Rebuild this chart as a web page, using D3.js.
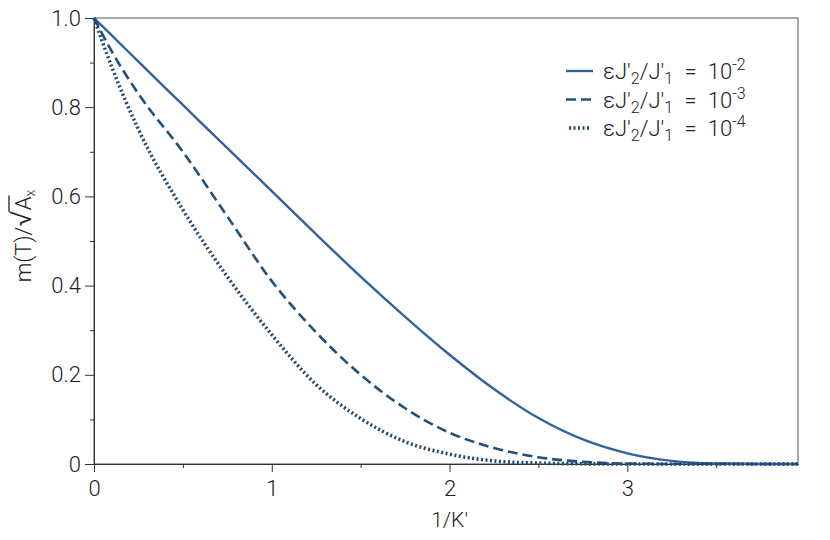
<!DOCTYPE html>
<html>
<head>
<meta charset="utf-8">
<script src="https://cdn.jsdelivr.net/npm/d3@7"></script>
<style>
  body { margin: 0; background: #fff; }
  svg text { font-family: Roboto, "Liberation Sans", sans-serif; font-weight: 300; fill: #222; }
</style>
</head>
<body>
<svg id="chart" width="830" height="540"></svg>
<script>
// values
const xs = [0, 0.1, 0.25, 0.5, 0.75, 1.0, 1.25, 1.5, 1.75, 2.0, 2.25, 2.5, 2.75, 3.0, 3.25, 3.5, 3.75, 3.96];
const series1 = [1.0, 0.961, 0.902, 0.805, 0.708, 0.612, 0.515, 0.42, 0.33, 0.245, 0.168, 0.103, 0.055, 0.024, 0.007, 0.001, 0, 0];
const series2 = [1.0, 0.925, 0.83, 0.70, 0.555, 0.41, 0.295, 0.20, 0.125, 0.07, 0.036, 0.015, 0.005, 0.001, 0, 0, 0, 0];
const series3 = [1.0, 0.89, 0.75, 0.57, 0.42, 0.29, 0.178, 0.102, 0.05, 0.022, 0.007, 0.002, 0.0005, 0, 0, 0, 0, 0];
const exponents = ["-2", "-3", "-4"];
const xMajor = [0, 1, 2, 3];
const xMinor = [0.5, 1.5, 2.5, 3.5];
const yMajor = [0, 0.2, 0.4, 0.6, 0.8, 1.0];
const yMinor = [0.1, 0.3, 0.5, 0.7, 0.9];

const svg = d3.select("#chart");
const margin = {top: 18, right: 32, bottom: 76, left: 94};
const width = 830 - margin.left - margin.right,
      height = 540 - margin.top - margin.bottom;
const g = svg.append("g").attr("transform", "translate(" + margin.left + "," + margin.top + ")");

const x = d3.scaleLinear().domain([0, 3.96]).range([0, width]);
const y = d3.scaleLinear().domain([0, 1]).range([height, 0]);

const styles = [
  {color: "#31629a", dash: null, w: 2.4},
  {color: "#23507a", dash: "10,5", w: 2.6},
  {color: "#1f4a72", dash: "2,2.5", w: 3.6}
];

// frame
g.append("rect")
    .attr("width", width).attr("height", height)
    .attr("fill", "none").attr("stroke", "#555").attr("stroke-width", 1);

function styleAxis(sel) {
  sel.select(".domain").attr("stroke", "#333");
  sel.selectAll(".tick line").attr("stroke", "#333");
  sel.selectAll("text").style("font-size", "22px");
}

g.append("g")
    .attr("transform", "translate(0," + height + ")")
    .call(d3.axisBottom(x).tickValues(xMajor).tickSize(8).tickSizeOuter(0).tickPadding(8).tickFormat(d3.format("d")))
    .call(styleAxis);
g.append("g")
    .attr("transform", "translate(0," + height + ")")
    .call(d3.axisBottom(x).tickValues(xMinor).tickSize(4).tickSizeOuter(0).tickFormat(""))
    .call(styleAxis);

g.append("g")
    .call(d3.axisLeft(y).tickValues(yMajor).tickSize(9).tickSizeOuter(0).tickPadding(4)
      .tickFormat(function(d) { return d === 0 ? "0" : d3.format(".1f")(d); }))
    .call(styleAxis);
g.append("g")
    .call(d3.axisLeft(y).tickValues(yMinor).tickSize(4).tickSizeOuter(0).tickFormat(""))
    .call(styleAxis);

// curves
const line = d3.line()
    .x(function(d) { return x(d[0]); })
    .y(function(d) { return y(d[1]); })
    .curve(d3.curveMonotoneX);

[series1, series2, series3].forEach(function(s, i) {
  g.append("path")
      .datum(xs.map(function(v, j) { return [v, s[j]]; }))
      .attr("fill", "none")
      .attr("stroke", styles[i].color)
      .attr("stroke-width", styles[i].w)
      .attr("stroke-dasharray", styles[i].dash)
      .attr("d", line);
});

// legend
const legend = svg.append("g").attr("transform", "translate(566,71)");
exponents.forEach(function(e, i) {
  const row = legend.append("g").attr("transform", "translate(0," + i * 28.5 + ")");
  row.append("line")
      .attr("x1", i === 2 ? 3 : 0).attr("x2", i === 2 ? 24 : 27)
      .attr("stroke", styles[i].color)
      .attr("stroke-width", styles[i].w)
      .attr("stroke-dasharray", styles[i].dash);
  const t = row.append("text").attr("x", 37).attr("y", 8).style("font-size", "22px");
  t.append("tspan").text("εJ'");
  t.append("tspan").attr("dy", 5).style("font-size", "16px").text("2");
  t.append("tspan").attr("dy", -5).text("/J'");
  t.append("tspan").attr("dy", 5).style("font-size", "16px").text("1");
  t.append("tspan").attr("dy", -5).text("\u2002=\u200210");
  t.append("tspan").attr("dy", -9).style("font-size", "16px").text(e);
});

// axis titles
svg.append("text")
    .attr("x", margin.left + x(2))
    .attr("y", 527)
    .attr("text-anchor", "middle")
    .style("font-size", "21px")
    .text("1/K'");

const yl = svg.append("text")
    .attr("transform", "translate(31,236) rotate(-90)")
    .attr("text-anchor", "middle")
    .style("font-size", "22px");
yl.append("tspan").text("m(T)/");
yl.append("tspan").style("font-size", "30px").text("√");
yl.append("tspan").text("A");
yl.append("tspan").attr("dy", 4).style("font-size", "14px").text("x");

// overline over the A under the root sign
const node = yl.node();
const aIdx = "m(T)/√".length;
const a1 = node.getEndPositionOfChar(aIdx);
const r1 = node.getEndPositionOfChar(aIdx - 1);
svg.append("line")
    .attr("transform", "translate(31,236) rotate(-90)")
    .attr("x1", r1.x - 1.5).attr("x2", a1.x + 1)
    .attr("y1", -22).attr("y2", -22)
    .attr("stroke", "#222").attr("stroke-width", 1.3);
</script>
</body>
</html>
